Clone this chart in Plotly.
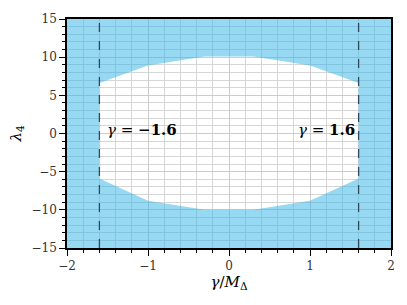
import plotly.graph_objects as go

# boundary of the allowed (white) region
gamma_pts = [-1.6, -1.0, -0.3, 0.3, 1.0, 1.6]
lam_upper = [6.6, 8.9, 10.1, 10.1, 8.9, 6.6]
lam_lower = [-5.9, -8.8, -10.0, -10.0, -8.8, -5.9]
gamma_cut = [-1.6, 1.6]
x_range = [-2, 2]
y_range = [-15, 15]
x_ticks = [-2, -1, 0, 1, 2]
y_ticks = [-15, -10, -5, 0, 5, 10, 15]

# excluded region = full frame minus white region (hole traced opposite direction)
outer_x = [x_range[0], x_range[1], x_range[1], x_range[0], x_range[0]]
outer_y = [y_range[0], y_range[0], y_range[1], y_range[1], y_range[0]]
inner_x = [gamma_pts[0]] + gamma_pts + [gamma_pts[-1]] + gamma_pts[::-1]
inner_y = [lam_lower[0]] + lam_upper + [lam_lower[-1]] + lam_lower[::-1]
fx = outer_x + inner_x + [x_range[0]]
fy = outer_y + inner_y + [y_range[0]]

serif = "DejaVu Serif"
fig = go.Figure()
fig.add_trace(go.Scatter(x=fx, y=fy, mode="lines", fill="toself",
                         fillcolor="rgba(48,180,232,0.5)",
                         line=dict(width=0), hoverinfo="skip", showlegend=False))
for g in gamma_cut:
    fig.add_trace(go.Scatter(x=[g, g], y=y_range, mode="lines",
                             line=dict(color="#34475c", width=1.3, dash="dash"),
                             showlegend=False))

fig.add_annotation(x=-1.53, y=0.5, text="<i>γ</i> = <b>−1.6</b>", showarrow=False,
                   xanchor="left", yanchor="middle", font=dict(family=serif, size=15, color="black"))
fig.add_annotation(x=1.58, y=0.5, text="<i>γ</i> = <b>1.6</b>", showarrow=False,
                   xanchor="right", yanchor="middle", font=dict(family=serif, size=15, color="black"))

axis_common = dict(showline=True, linecolor="black", linewidth=1.5, mirror=True,
                   ticks="outside", ticklen=6, tickwidth=1, tickcolor="black",
                   showgrid=True, gridcolor="#cccccc", gridwidth=0.8, zeroline=False,
                   tickfont=dict(family=serif, size=12, color="#333"))
fig.update_xaxes(range=x_range, tickvals=x_ticks, ticktext=["−2", "−1", "0", "1", "2"],
                 minor=dict(dtick=0.2, tick0=0, ticks="outside", ticklen=3, tickcolor="black",
                            showgrid=True, gridcolor="#d6d6d6", gridwidth=0.7),
                 title=dict(text="<i>γ</i>/<i>M</i><sub>Δ</sub>", font=dict(family=serif, size=15, color="black"),
                            standoff=4),
                 **axis_common)
fig.update_yaxes(range=y_range, tickvals=y_ticks,
                 ticktext=["−15", "−10", "−5", "0", "5", "10", "15"],
                 minor=dict(dtick=1, tick0=0, ticks="outside", ticklen=3, tickcolor="black",
                            showgrid=True, gridcolor="#d6d6d6", gridwidth=0.7),
                 title=dict(text="<i>λ</i><sub>4</sub>", font=dict(family=serif, size=15, color="black"),
                            standoff=6),
                 **axis_common)
fig.update_layout(width=407, height=305, margin=dict(l=67, r=16, t=15, b=57),
                  plot_bgcolor="white", paper_bgcolor="white", showlegend=False)
fig.write_html("out.html", config={"displayModeBar": False},
               post_script="document.body.style.margin='0';")
